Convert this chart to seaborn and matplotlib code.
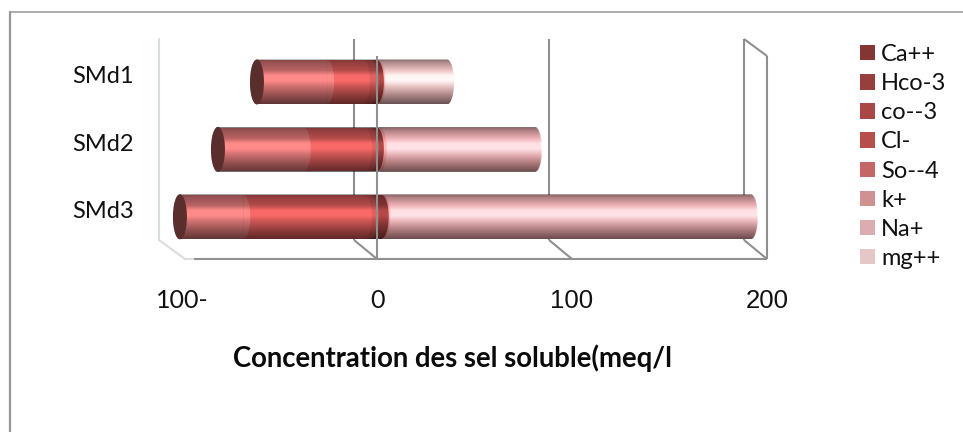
import numpy as np
import pandas as pd
import matplotlib
matplotlib.use("Agg")
import matplotlib.pyplot as plt
from matplotlib.lines import Line2D
from matplotlib.patches import Patch, Polygon
from matplotlib.path import Path
import matplotlib.colors as mcolors
import seaborn as sns

samples = ["SMd1", "SMd2", "SMd3"]
series_names = ["Ca++", "Hco-3", "co--3", "Cl-", "So--4", "k+", "Na+", "mg++"]

# Concentrations in meq/l; anions extend to the left of zero
ca = [2.5, 2.5, 5.0]
hco3 = [-1.0, -1.0, -1.0]
co3 = [-3.6, -2.6, -2.6]
cl = [-18.4, -31.4, -62.4]
so4 = [-36.0, -44.0, -32.5]
k = [0.5, 1.5, 0.8]
na = [0.5, 79.0, 188.0]
mg = [35.0, 0.6, 0.5]

legend_colors = ["#853634", "#973f3c", "#a84745", "#b84e4c", "#c46666", "#d09192", "#dbadb0", "#e6c7c8"]
tick_values = [-100, 0, 100, 200]
tick_labels = ["100-", "0", "100", "200"]
axis_title = "Concentration des sel soluble(meq/l"

WIDTH, HEIGHT, DPI = 963, 432, 100
PX_PER_UNIT = 1.95
ZERO_PX = 372.0
ROW0_PX, ROW_STEP_PX = 82.0, 67.4
AX_LEFT, AX_RIGHT, AX_TOP, AX_BOTTOM = 159, 790, 39, 260
BAR_WIDTH = 45 / ROW_STEP_PX
BULGE = 7 / PX_PER_UNIT
GRID = "#8f8f8f"
PALE = "#d8dfdb"
LATO = "Lato"
ARIAL_LIKE = "Liberation Sans"

sns.set_theme(style="white")
plt.rcParams["font.family"] = [LATO, "DejaVu Sans"]


def ux(px):
    return (px - ZERO_PX) / PX_PER_UNIT


def uy(py):
    return (py - ROW0_PX) / ROW_STEP_PX


# Cumulative edges of the stacked bars, on each side of zero
values = dict(zip(series_names, [ca, hco3, co3, cl, so4, k, na, mg]))
pos_order = ["Ca++", "k+", "Na+", "mg++"]
neg_order = ["Hco-3", "co--3", "Cl-", "So--4"]
edges = {}
for order in (pos_order, neg_order):
    running = np.zeros(len(samples))
    for name in order:
        running = running + np.array(values[name])
        edges[name] = running.copy()

records = [
    {"sample": s, "series": name, "edge": edges[name][i]}
    for name in series_names
    for i, s in enumerate(samples)
]
frame = pd.DataFrame(records)


# Bars are painted brighter than their legend swatch; the shading overlay darkens them back
def lit(color, factor=1.35):
    return tuple(min(1.0, c * factor) for c in mcolors.to_rgb(color))


palette = {n: lit(c) for n, c in zip(series_names, legend_colors)}
draw_order = ["mg++", "Na+", "k+", "Ca++", "So--4", "Cl-", "co--3", "Hco-3"]

fig = plt.figure(figsize=(WIDTH / DPI, HEIGHT / DPI), dpi=DPI, facecolor="white")
ax = fig.add_axes([
    AX_LEFT / WIDTH,
    1 - AX_BOTTOM / HEIGHT,
    (AX_RIGHT - AX_LEFT) / WIDTH,
    (AX_BOTTOM - AX_TOP) / HEIGHT,
])
# The bars sit just inside the shading outline so that no unshaded edge shows
sns.barplot(
    data=frame, x="edge", y="sample", hue="series", order=samples, hue_order=draw_order,
    palette=palette, dodge=False, width=BAR_WIDTH * 0.97, saturation=1, legend=False, orient="h",
    linewidth=0, ax=ax, zorder=2,
)
ax.set_ylabel("")
for side in ax.spines.values():
    side.set_visible(False)

theta = np.linspace(-np.pi / 2, np.pi / 2, 40)
half = BAR_WIDTH / 2

# Curved seams: each segment bulges over its right-hand neighbour
left_to_right = ["So--4", "Cl-", "co--3", "Hco-3", "Ca++", "k+", "Na+", "mg++"]
for row in range(len(samples)):
    seam_list = []
    for name in left_to_right:
        right_edge = edges[name][row] if name in pos_order else None
        if name in neg_order:
            idx = neg_order.index(name)
            right_edge = edges[neg_order[idx - 1]][row] if idx else 0.0
        seam_list.append((right_edge, name))
    for right_edge, name in sorted(seam_list, key=lambda s: s[0], reverse=True):
        xs = right_edge + BULGE * np.cos(theta)
        ys = row + half * 0.97 * np.sin(theta)
        ax.add_patch(Polygon(np.column_stack([xs, ys]), closed=True, fc=palette[name], ec="none", zorder=3))


def shading(t_points, red_points, green_points, size=90):
    """RGBA overlay that multiplies red and green/blue channels by separate ramps."""
    t = np.linspace(0, 1, size)
    red = np.interp(t, t_points, red_points)
    green = np.interp(t, t_points, green_points)
    alpha = np.clip(1 - green, 1e-3, 1)
    layer = np.zeros((size, 2, 4))
    layer[..., 0] = (np.clip((red - green) / alpha, 0, 1))[:, None]
    layer[..., 3] = alpha[:, None]
    return layer


profile_t = [0.0, 0.08, 0.25, 0.36, 0.48, 0.60, 0.8, 1.0]
red_shade = shading(profile_t,
                    [0.50, 0.60, 0.72, 1.00, 1.00, 0.82, 0.58, 0.38],
                    [0.50, 0.60, 0.72, 1.00, 1.00, 0.82, 0.58, 0.38])
pale_shade = shading(profile_t,
                     [0.52, 0.70, 0.93, 1.00, 1.00, 0.92, 0.68, 0.42],
                     [0.42, 0.55, 0.76, 0.95, 0.97, 0.78, 0.52, 0.32])

# Cylinder shading, clipped to each cylinder's outline
for row in range(len(samples)):
    lo = edges["So--4"][row]
    hi = edges["mg++"][row]
    seam = edges["Ca++"][row]
    ys = row + half * np.sin(theta)
    bulge = BULGE * np.cos(theta)
    extent = (lo - BULGE, hi + BULGE, row + half, row - half)

    red_outline = np.vstack([
        np.column_stack([seam + bulge, ys]),
        np.column_stack([lo - bulge[::-1], ys[::-1]]),
    ])
    pale_outline = np.vstack([
        np.column_stack([seam + bulge, ys]),
        np.column_stack([hi + bulge[::-1], ys[::-1]]),
    ])
    for layer, outline in ((red_shade, red_outline), (pale_shade, pale_outline)):
        im = ax.imshow(layer, extent=extent, aspect="auto", zorder=4, interpolation="bilinear")
        im.set_clip_path(Path(np.vstack([outline, outline[:1]])), ax.transData)

    # Dark end cap of the cylinder
    angle = np.linspace(0, 2 * np.pi, 60)
    ax.add_patch(Polygon(
        np.column_stack([lo + BULGE * np.cos(angle), row + half * np.sin(angle)]),
        closed=True, fc="#5a2e2c", ec="none", zorder=5,
    ))
ax.set_xlim(ux(AX_LEFT), ux(AX_RIGHT))
ax.set_ylim(uy(AX_BOTTOM), uy(AX_TOP))

# Walls and floor of the box: back plane, front plane and the slanted ties between them
FRONT = 5 / PX_PER_UNIT
BACK = -18 / PX_PER_UNIT
y_back_top, y_back_low = uy(39), uy(240)
y_front_top, y_floor = uy(56), uy(259)
line_kw = dict(color=GRID, lw=1.5, solid_capstyle="butt", clip_on=False)
for v in tick_values[1:]:
    ax.plot([v + BACK, v + BACK], [y_back_top, y_back_low], zorder=1, **line_kw)
    ax.plot([v + BACK, v + FRONT], [y_back_low, y_floor], zorder=1, **line_kw)
ax.plot([tick_values[0] + BACK] * 2, [y_back_top, y_back_low], color=PALE, lw=1.5, zorder=1, clip_on=False)
ax.plot([tick_values[0] + BACK, ux(185)], [y_back_low, y_floor], color=PALE, lw=1.5, zorder=1, clip_on=False)
ax.plot([ux(185), ux(194)], [y_floor, y_floor], color=PALE, lw=1.5, zorder=1, clip_on=False)
ax.plot([ux(194), tick_values[-1] + FRONT], [y_floor, y_floor], zorder=6, **line_kw)
ax.plot([tick_values[-1] + BACK, tick_values[-1] + FRONT], [y_back_top, y_front_top], zorder=1, **line_kw)
ax.plot([tick_values[-1] + FRONT] * 2, [y_front_top, y_floor], zorder=1, **line_kw)
ax.plot([FRONT, FRONT], [y_front_top, y_floor], zorder=6, **line_kw)

# Axis labels
ax.set_xticks([v + FRONT for v in tick_values], tick_labels)
ax.tick_params(axis="x", length=0, pad=21, labelsize=18, colors="#111111")
ax.set_yticks(np.arange(len(samples)) - 0.105, samples)
ax.tick_params(axis="y", length=0, pad=18, labelsize=17, colors="#111111")
ax.set_xlabel(axis_title, fontsize=19.8, fontweight="bold", color="#0a0a0a", labelpad=0)
ax.xaxis.set_label_coords((452 - AX_LEFT) / (AX_RIGHT - AX_LEFT), 1 - (358 - AX_TOP) / (AX_BOTTOM - AX_TOP))
ax.xaxis.label.set_verticalalignment("center")

# Legend
legend_size = 17
em_px = legend_size * DPI / 72
handles = [Patch(fc=c, ec="none") for c in legend_colors]
ax.legend(
    handles, series_names, loc="upper left", bbox_to_anchor=(860 / WIDTH, 1 - 44 / HEIGHT),
    bbox_transform=fig.transFigure, frameon=False, fontsize=legend_size,
    borderpad=0, borderaxespad=0, handlelength=15 / em_px, handleheight=15 / em_px,
    handletextpad=6 / em_px, labelspacing=0.345, labelcolor="#111111",
)

# Outer chart frame, open on the right and bottom
for xs, ys, lw in [((10 / WIDTH, 10 / WIDTH), (0, 1 - 11.5 / HEIGHT), 1.6),
                   ((10 / WIDTH, 1), (1 - 11.5 / HEIGHT, 1 - 11.5 / HEIGHT), 1.1)]:
    fig.add_artist(Line2D(xs, ys, color="#979797", lw=lw, transform=fig.transFigure))

# The two upper tick labels use a different typeface
for tick, family, size in zip(ax.xaxis.get_major_ticks(), [LATO, LATO, ARIAL_LIKE, ARIAL_LIKE], [18, 18, 18.5, 18.5]):
    tick.label1.set_fontfamily(family)
    tick.label1.set_fontsize(size)

fig.savefig("out.png", dpi=DPI)
